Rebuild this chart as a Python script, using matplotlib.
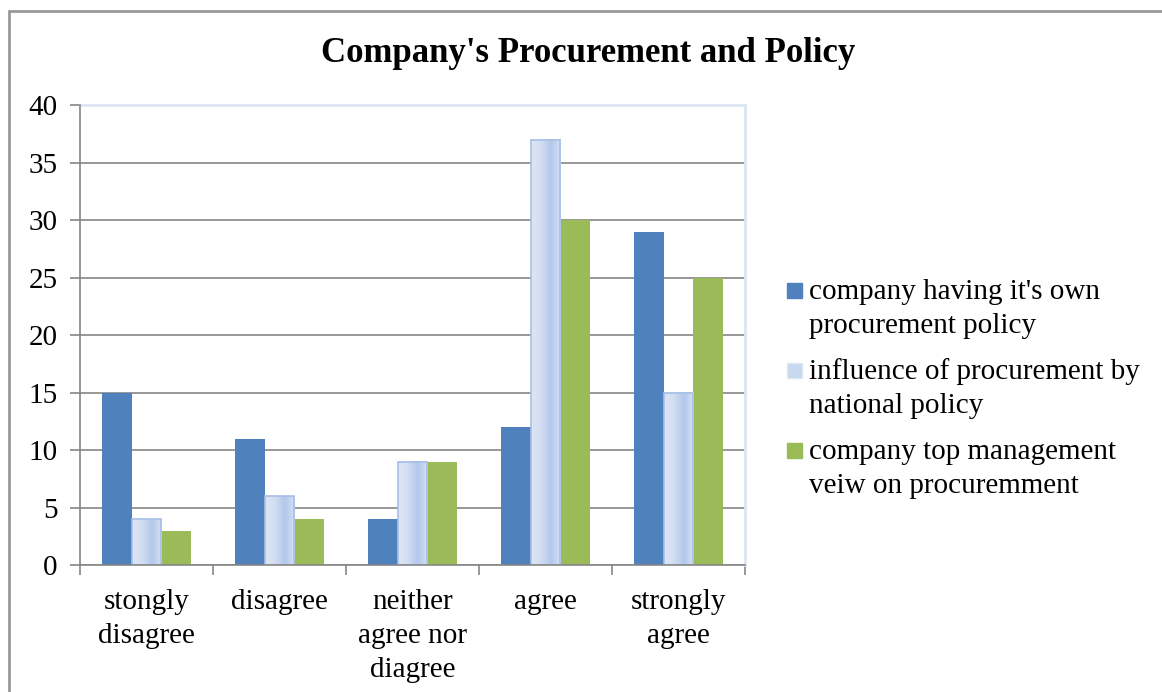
import matplotlib
matplotlib.use("Agg")
import matplotlib.pyplot as plt
import numpy as np
from matplotlib.patches import Rectangle
from matplotlib.colors import LinearSegmentedColormap

categories = ["stongly\ndisagree", "disagree", "neither\nagree nor\ndiagree", "agree", "strongly\nagree"]
series_names = ["company having it's own\nprocurement policy",
                "influence of procurement by\nnational policy",
                "company top management\nveiw on procuremment"]
own_policy = [15, 11, 4, 12, 29]
national_policy = [4, 6, 9, 37, 15]
top_management = [3, 4, 9, 30, 25]
y_ticks = [0, 5, 10, 15, 20, 25, 30, 35, 40]

plt.rcParams['font.family'] = ['Liberation Serif', 'DejaVu Serif']

fig = plt.figure(figsize=(11.62, 6.92), dpi=100)
W, H = 1162, 692
ax = fig.add_axes([80/W, 1-565/H, (745-80)/W, (565-105)/H])

x = np.arange(len(categories))
w = 0.225
b1 = ax.bar(x - w, own_policy, w, color='#4F81BD', zorder=3)
b2 = ax.bar(x, national_policy, w, color='none', edgecolor='#A7BFE8', linewidth=1.2, zorder=4)
b3 = ax.bar(x + w, top_management, w, color='#9BBB59', zorder=3)

cmap = LinearSegmentedColormap.from_list('g', ['#DDE6F4', '#D2DDF1', '#B3C8EC', '#D6E0F2'])
grad = np.linspace(0, 1, 64).reshape(1, -1)
for p in b2.patches:
    x0, y0 = p.get_x(), p.get_y()
    ax.imshow(grad, cmap=cmap, aspect='auto', extent=[x0, x0 + p.get_width(), y0, y0 + p.get_height()],
              zorder=3.5, interpolation='bilinear')

ax.set_xlim(-0.5, len(categories) - 0.5)
ax.set_ylim(0, 40)
ax.set_yticks(y_ticks)
ax.set_yticklabels([str(v) for v in y_ticks], fontsize=21)
ax.set_xticks(x)
ax.set_xticklabels(categories, fontsize=21, linespacing=1.42)
ax.tick_params(axis='x', length=0, pad=17)
ax.set_xticks(np.arange(-0.5, len(categories), 1), minor=True)
ax.tick_params(axis='x', which='minor', length=7, color='#868686', width=1.2)
ax.tick_params(axis='y', length=7, color='#868686', width=1.2, pad=9)
ax.yaxis.grid(True, color='#868686', linewidth=1.2, zorder=0)
ax.set_axisbelow(True)
for s in ['top', 'right']:
    ax.spines[s].set_color('#DCE6F2')
    ax.spines[s].set_linewidth(2)
for s in ['left', 'bottom']:
    ax.spines[s].set_color('#868686')
    ax.spines[s].set_linewidth(1.2)
    ax.spines[s].set_zorder(5)

fig.text(588/W, 1-53/H, "Company's Procurement and Policy", ha='center', va='center',
         fontsize=25, fontweight='bold')

# legend drawn manually: marker aligned with the first line of each entry
legend_colors = [('#4F81BD', '#4F81BD'), ('#C9D7EF', '#DDE6F4'), ('#9BBB59', '#9BBB59')]
baselines = [300, 380, 460]
for name, (fc, ec), yb in zip(series_names, legend_colors, baselines):
    fig.add_artist(Rectangle((787/W, 1-(yb-2)/H), 15/W, 15/H, transform=fig.transFigure,
                             facecolor=fc, edgecolor=ec, linewidth=1))
    fig.text(809/W, 1-(yb+33)/H, name, ha='left', va='baseline', fontsize=21, linespacing=1.42)

fig.add_artist(Rectangle((9/W, -0.1), 1.2, 1 - 11/H + 0.1, transform=fig.transFigure,
                         fill=False, edgecolor='#999999', linewidth=2))

fig.savefig('out.png', dpi=100)
